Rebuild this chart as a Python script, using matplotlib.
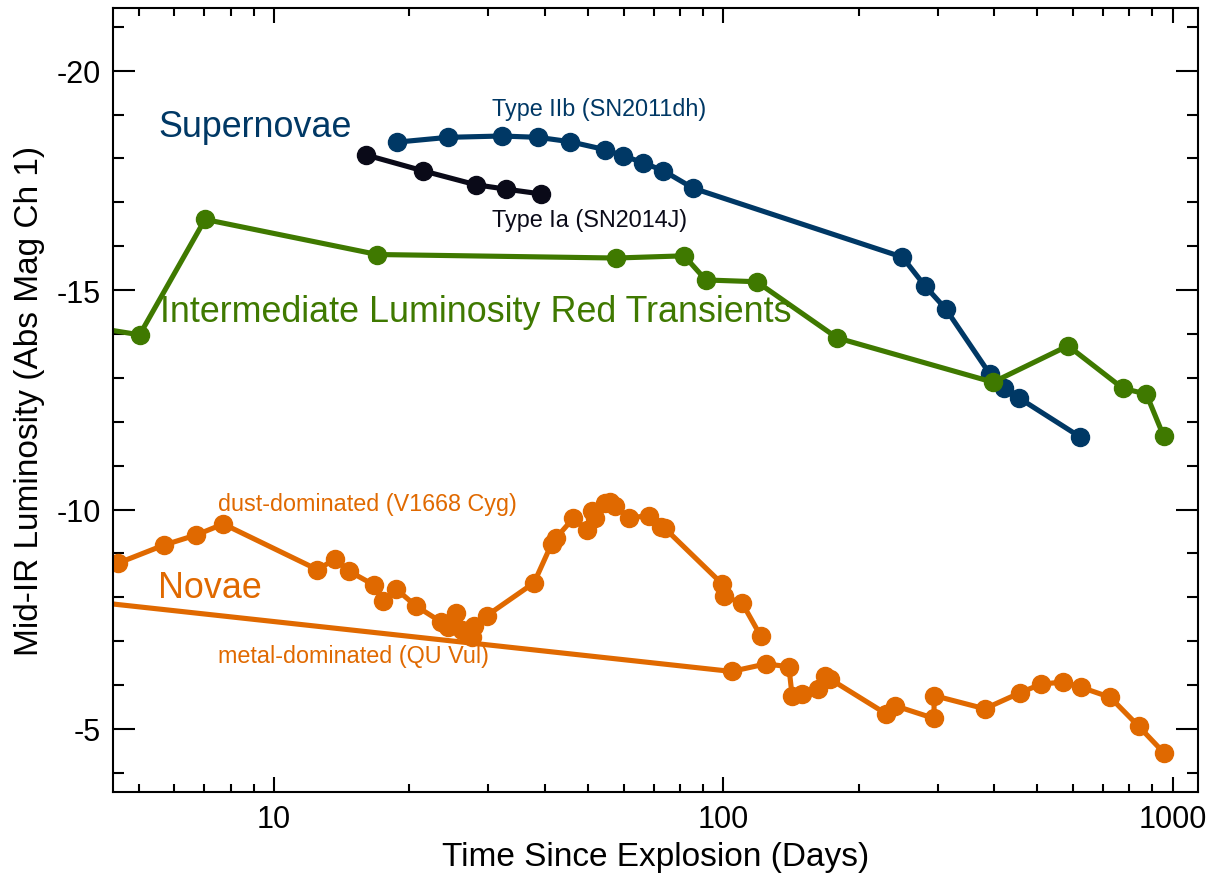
import matplotlib
matplotlib.use("Agg")
import matplotlib.pyplot as plt
from matplotlib.ticker import FixedLocator, LogLocator, MultipleLocator, NullFormatter, FormatStrFormatter

# ---- light-curve data (days since explosion, Spitzer ch1 absolute magnitude) ----
ia_days = [16.0, 21.4, 28.1, 32.8, 39.3]
ia_mag = [-18.08, -17.72, -17.40, -17.30, -17.19]

iib_days = [18.75, 24.4, 32.1, 38.7, 45.6, 54.5, 59.9, 66.3, 73.5, 85.7,
            250.4, 280.7, 312.6, 391.7, 420.7, 455.0, 621.0]
iib_mag = [-18.37, -18.48, -18.51, -18.48, -18.38, -18.20, -18.06, -17.90, -17.72, -17.32,
           -15.75, -15.10, -14.57, -13.09, -12.76, -12.54, -11.66]

ilrt_days = [3.3, 5.02, 7.02, 16.97, 57.7, 81.8, 91.4, 118.6, 179.2, 398.4, 584.9, 775.1, 874.0, 955.0]
ilrt_mag = [-14.28, -13.98, -16.61, -15.81, -15.73, -15.78, -15.23, -15.19, -13.91, -12.90,
            -13.73, -12.76, -12.63, -11.67]

dust_days = [4.50, 5.69, 6.71, 7.71, 12.49, 13.67, 14.71, 16.69, 17.51, 18.68, 20.7,
             23.52, 24.38, 25.41, 26.20, 27.16, 27.58, 27.86, 29.73, 37.9,
             41.48, 42.41, 46.34, 49.63, 50.91, 51.78, 54.5, 56.0, 57.38, 61.72,
             68.38, 72.5, 74.1, 99.5, 100.3, 110.1, 121.2]
dust_mag = [-8.78, -9.19, -9.42, -9.67, -8.63, -8.87, -8.59, -8.28, -7.92, -8.19, -7.80,
            -7.44, -7.33, -7.64, -7.26, -7.21, -7.10, -7.35, -7.58, -8.33,
            -9.22, -9.35, -9.80, -9.54, -9.97, -9.80, -10.15, -10.18, -10.09, -9.81,
            -9.86, -9.60, -9.57, -8.30, -8.02, -7.87, -7.11]

metal_days = [3.0, 104.3, 124.2, 139.9, 142.2, 149.3, 162.5, 168.6, 172.6, 230.7, 240.7,
              294.4, 294.4, 381.7, 456.6, 508.7, 571.3, 625.0, 726.3, 840.3, 957.4]
metal_mag = [-8.03, -6.31, -6.48, -6.42, -5.76, -5.80, -5.90, -6.20, -6.14, -5.34, -5.53,
             -5.24, -5.76, -5.46, -5.82, -6.02, -6.07, -5.95, -5.72, -5.06, -4.45]

x_ticks = [10, 100, 1000]

BLUE = "#003865"
BLACK = "#0a0a18"
GREEN = "#3f7900"
ORANGE = "#e06900"

plt.rcParams["font.family"] = ["Liberation Sans", "DejaVu Sans"]
plt.rcParams["axes.unicode_minus"] = False

fig = plt.figure(figsize=(12.1, 8.79), dpi=100)
ax = fig.add_axes([113 / 1210, 1 - 792.7 / 879, (1197.7 - 113) / 1210, (792.7 - 9.3) / 879])

line_kw = dict(lw=3.7, marker="o", ms=13, solid_joinstyle="round", solid_capstyle="round")
ax.plot(ia_days, ia_mag, color=BLACK, **line_kw)
ax.plot(iib_days, iib_mag, color=BLUE, **line_kw)
ax.plot(ilrt_days, ilrt_mag, color=GREEN, **line_kw)
ax.plot(metal_days[:2], metal_mag[:2], color=ORANGE, lw=3.7, solid_capstyle="round")
ax.plot(metal_days[1:], metal_mag[1:], color=ORANGE, **line_kw)
ax.plot(dust_days, dust_mag, color=ORANGE, **line_kw)

ax.set_xscale("log")
ax.set_xlim(4.38, 1137)
ax.set_ylim(-3.57, -21.42)

ax.xaxis.set_major_locator(FixedLocator(x_ticks))
ax.xaxis.set_major_formatter(FormatStrFormatter("%d"))
ax.xaxis.set_minor_locator(LogLocator(base=10, subs=range(2, 10)))
ax.xaxis.set_minor_formatter(NullFormatter())
ax.yaxis.set_major_locator(MultipleLocator(5))
ax.yaxis.set_minor_locator(MultipleLocator(1))
ax.yaxis.set_major_formatter(FormatStrFormatter("%d"))

for s in ax.spines.values():
    s.set_linewidth(1.5)
ax.tick_params(which="both", direction="in", top=True, right=True, width=1.5,
               labelsize=22, colors="black")
ax.tick_params(axis="y", which="major", length=15.8, pad=9)
ax.tick_params(axis="y", which="minor", length=7.9)
ax.tick_params(axis="x", which="major", length=10.8, pad=9)
ax.tick_params(axis="x", which="minor", length=5.5)

ax.set_xlabel("Time Since Explosion (Days)", fontsize=24, labelpad=5)
ax.set_ylabel("Mid-IR Luminosity (Abs Mag Ch 1)", fontsize=24, labelpad=8)

# ---- class and object labels ----
big = 25.8
small = 16.8
ax.text(5.53, -18.52, "Supernovae", color=BLUE, fontsize=big, va="baseline")
ax.text(5.58, -14.30, "Intermediate Luminosity Red Transients", color=GREEN, fontsize=big, va="baseline")
ax.text(5.53, -8.00, "Novae", color=ORANGE, fontsize=big, va="baseline")
ax.text(30.5, -18.99, "Type IIb (SN2011dh)", color=BLUE, fontsize=small, va="baseline")
ax.text(30.5, -16.47, "Type Ia (SN2014J)", color=BLACK, fontsize=small, va="baseline")
ax.text(7.52, -9.99, "dust-dominated (V1668 Cyg)", color=ORANGE, fontsize=small, va="baseline")
ax.text(7.52, -6.52, "metal-dominated (QU Vul)", color=ORANGE, fontsize=small, va="baseline")

fig.savefig("out.png", dpi=100)
